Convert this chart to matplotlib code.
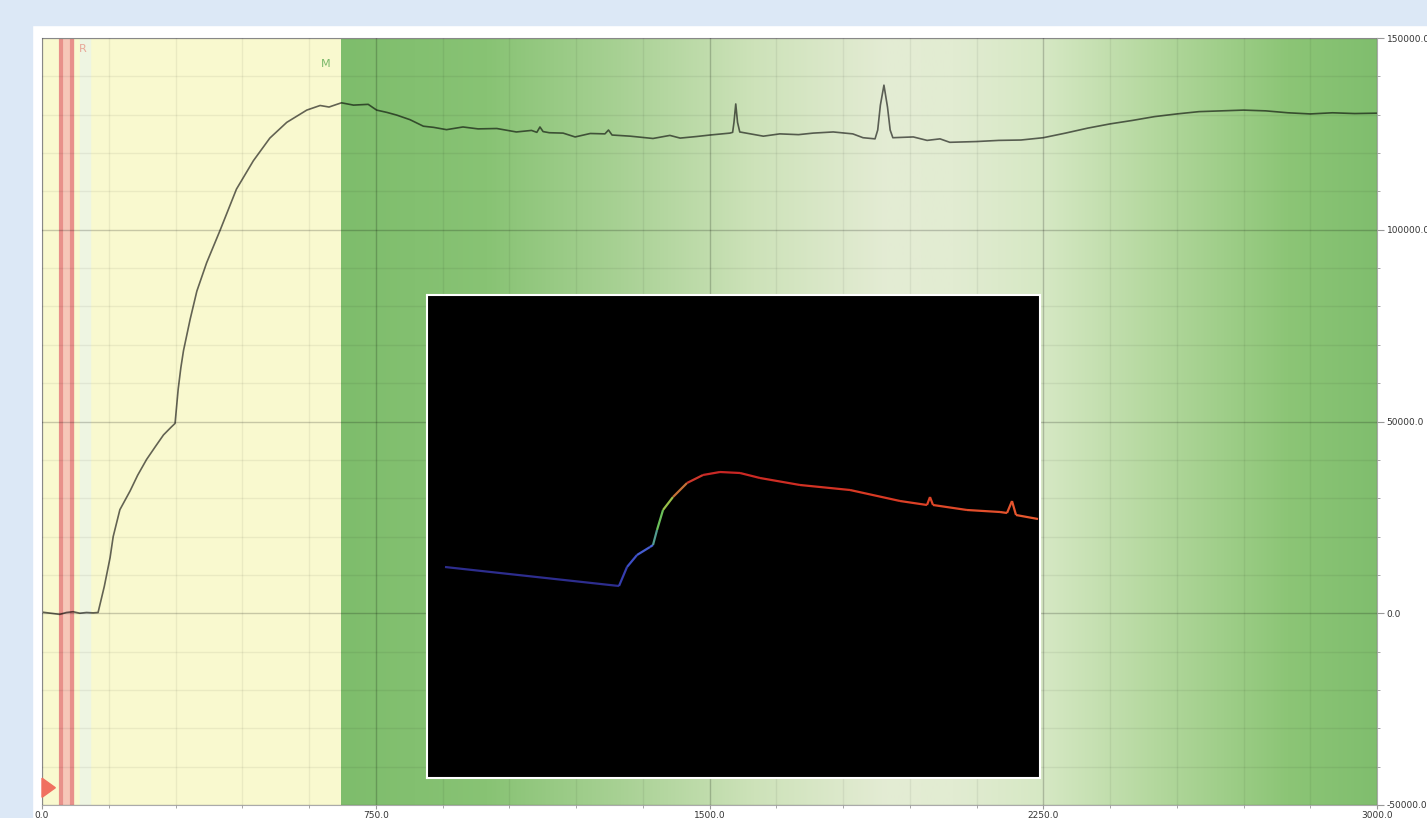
import numpy as np
import matplotlib
matplotlib.use("Agg")
import matplotlib.pyplot as plt
from matplotlib.patches import Rectangle, Polygon
from matplotlib.collections import LineCollection
from matplotlib.ticker import MultipleLocator, FormatStrFormatter

# main trace: time vs signal
time = [0, 20, 40, 55, 70, 85, 100, 115, 126, 140, 153, 160, 175, 198, 215, 235,
        255, 273, 290, 299, 306, 312, 318, 333, 348, 370, 400, 437, 475, 512, 550,
        595, 625, 645, 660, 673, 700, 733, 752, 775, 797, 827, 857, 880, 909, 946,
        980, 1022, 1066, 1100, 1112, 1119, 1126, 1140, 1171, 1198, 1232, 1265, 1273,
        1281, 1322, 1373, 1411, 1434, 1470, 1501, 1546, 1552, 1555, 1559, 1563, 1568,
        1621, 1658, 1700, 1733, 1778, 1822, 1845, 1872, 1878, 1884, 1892, 1900, 1906,
        1912, 1958, 1989, 2018, 2040, 2100, 2150, 2200, 2250, 2300, 2350, 2400, 2450,
        2500, 2550, 2600, 2650, 2700, 2750, 2800, 2850, 2900, 2950, 3000]
signal = [300, 0, -300, 200, 400, 0, 200, 100, 200, 7000, 14500, 20000, 27000, 31900,
          36000, 40100, 43500, 46500, 48500, 49500, 58400, 64000, 68500, 76700, 84000,
          91400, 99800, 110600, 118000, 123900, 128000, 131200, 132400, 132000, 132600,
          133100, 132500, 132700, 131200, 130600, 129900, 128700, 127000, 126700, 126100,
          126800, 126300, 126400, 125500, 125900, 125400, 126800, 125600, 125300, 125200,
          124200, 125100, 125000, 126000, 124700, 124400, 123800, 124600, 123900, 124300,
          124700, 125200, 125400, 128000, 132800, 128000, 125500, 124400, 125000, 124800,
          125200, 125500, 125000, 124000, 123700, 126000, 132500, 137700, 132000, 126000,
          124000, 124200, 123300, 123700, 122800, 123000, 123300, 123400, 124000, 125200,
          126500, 127600, 128500, 129500, 130200, 130800, 131000, 131200, 131000, 130500,
          130200, 130500, 130300, 130400]

# inset trace (inset's own units)
inset_t = [18, 192, 200, 210, 223, 226, 230, 236, 246, 260, 276, 293, 313, 333, 373,
           423, 473, 500, 503, 506, 540, 573, 580, 585, 589, 611]
inset_v = [211, 192, 211, 223, 231, 233, 248, 268, 281, 295, 303, 306, 305, 300, 293,
           288, 277, 273, 281, 273, 268, 266, 265, 277, 263, 259]

xticks = [0, 750, 1500, 2250, 3000]
yticks = [-50000, 0, 50000, 100000, 150000]

fig = plt.figure(figsize=(14.27, 8.18), dpi=100, facecolor="white")
# light blue frame round the panel
fig.patches.append(Rectangle((0, 1 - 25 / 818), 1, 25 / 818, transform=fig.transFigure,
                             color="#dce8f6", zorder=0))
fig.patches.append(Rectangle((0, 0), 32 / 1427, 1, transform=fig.transFigure,
                             color="#dce8f6", zorder=0))

ax = fig.add_axes([42 / 1427, 13 / 818, 1335 / 1427, 767 / 818])
ax.set_xlim(0, 3000)
ax.set_ylim(-50000, 150000)

# yellow pre-region and green gradient region
ax.axvspan(0, 672, color="#f9f9cf", zorder=0)
stops_x = [672, 1000, 1300, 1600, 1900, 2050, 2250, 2500, 2800, 3000]
stops_c = np.array([[126, 189, 108], [136, 195, 116], [168, 209, 148], [205, 226, 185],
                    [228, 236, 212], [226, 236, 210], [214, 232, 196], [180, 216, 158],
                    [140, 197, 118], [128, 190, 110]]) / 255.0
gx = np.linspace(672, 3000, 600)
grad = np.stack([np.interp(gx, stops_x, stops_c[:, i]) for i in range(3)], axis=-1)
ax.imshow(grad[np.newaxis, :, :], extent=[672, 3000, -50000, 150000], aspect="auto",
          zorder=0, interpolation="bilinear")

# markers near the start
ax.axvspan(40, 70, color="#f6c6b8", zorder=1)
ax.axvline(43, color="#e8908a", lw=3, zorder=1)
ax.axvline(67, color="#e8908a", lw=3, zorder=1)
ax.axvspan(85, 108, color="#eef5e2", zorder=1)
ax.text(92, 148500, "R", color="#e8a898", fontsize=8, ha="center", va="top", zorder=3)
ax.text(637, 144500, "M", color="#7ab86a", fontsize=8, ha="center", va="top", zorder=3)
ax.add_patch(Polygon([[0, -48000], [0, -43000], [30, -45500]], closed=True,
                     color="#f07060", zorder=3, clip_on=False))

ax.grid(which="major", color="black", alpha=0.2, lw=1, zorder=1)
ax.grid(which="minor", color="black", alpha=0.06, lw=1, zorder=1)
ax.set_axisbelow(False)
ax.xaxis.set_major_locator(MultipleLocator(750))
ax.xaxis.set_minor_locator(MultipleLocator(150))
ax.yaxis.set_major_locator(MultipleLocator(50000))
ax.yaxis.set_minor_locator(MultipleLocator(10000))
ax.set_xticks(xticks)
ax.set_yticks(yticks)
ax.xaxis.set_major_formatter(FormatStrFormatter("%.1f"))
ax.yaxis.set_major_formatter(FormatStrFormatter("%.1f"))
ax.yaxis.tick_right()
ax.tick_params(which="both", direction="out", color="#999999", labelsize=6.5,
               labelcolor="#333333", pad=1)
ax.tick_params(which="major", length=3)
ax.tick_params(which="minor", length=2)
ax.tick_params(axis="y", which="major", length=5, pad=2)
for s in ax.spines.values():
    s.set_color("#aaaaaa")

ax.plot(time, signal, color="black", alpha=0.6, lw=1.2, zorder=2)

# black inset with colour-coded trace
ins = fig.add_axes([427 / 1427, 40 / 818, 613 / 1427, 483 / 818])
ins.set_facecolor("black")
ins.set_xlim(0, 613)
ins.set_ylim(0, 483)
ins.set_xticks([])
ins.set_yticks([])
for s in ins.spines.values():
    s.set_color("white")
    s.set_linewidth(1.5)

col_t = [0, 190, 200, 225, 230, 245, 258, 290, 450, 611]
col_c = np.array([[43, 43, 133], [47, 47, 149], [58, 72, 192], [74, 102, 216],
                  [88, 192, 96], [176, 192, 64], [208, 64, 48], [200, 36, 36],
                  [216, 58, 36], [232, 90, 48]]) / 255.0
pts = np.column_stack([inset_t, inset_v])
segs = np.stack([pts[:-1], pts[1:]], axis=1)
mid = (np.array(inset_t[:-1]) + np.array(inset_t[1:])) / 2
seg_colors = np.stack([np.interp(mid, col_t, col_c[:, i]) for i in range(3)], axis=-1)
ins.add_collection(LineCollection(segs, colors=seg_colors, linewidths=1.6))

fig.savefig("out.png", dpi=100)
